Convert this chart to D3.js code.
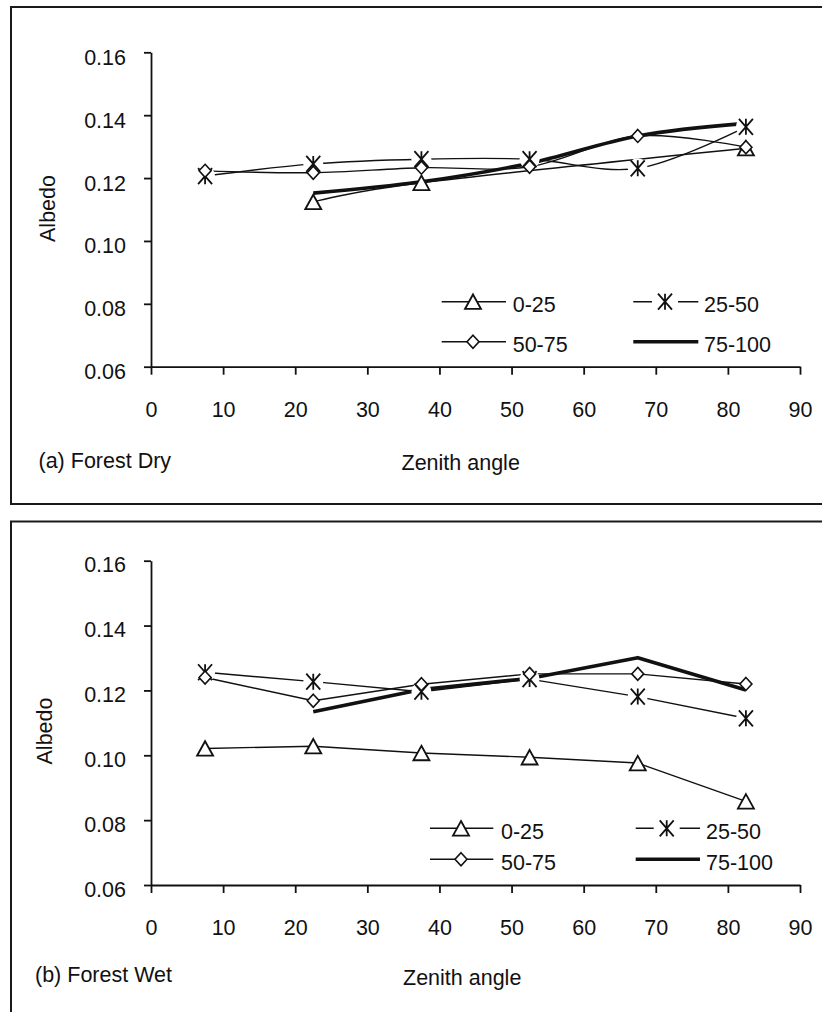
<!DOCTYPE html>
<html>
<head>
<meta charset="utf-8">
<script src="https://cdn.jsdelivr.net/npm/d3@7"></script>
<style>
  html, body { margin: 0; padding: 0; background: #fff; }
  svg { display: block; }
  text { font-family: "Liberation Sans", Arial, Helvetica, sans-serif; fill: #111; }
</style>
</head>
<body>
<svg id="chart" width="822" height="1012"></svg>
<script>
// ---------------- DATA ----------------
const zenith = [7.5, 22.5, 37.5, 52.5, 67.5, 82.5];
const seriesNames = ["0-25", "25-50", "50-75", "75-100"];
const xTicks = [0, 10, 20, 30, 40, 50, 60, 70, 80, 90];
const yTicks = [0.06, 0.08, 0.10, 0.12, 0.14, 0.16];

// (a) Forest Dry
const dry0_25   = [null,   0.1124, 0.1185, null,   null,   0.1295];
const dry25_50  = [0.1206, 0.1245, 0.1260, 0.1260, 0.1231, 0.1363];
const dry50_75  = [0.1223, 0.1217, 0.1233, 0.1236, 0.1334, 0.1298];
const dry75_100 = [null,   0.1152, 0.1188, 0.1247, 0.1334, 0.1374];

// (b) Forest Wet
const wet0_25   = [0.1021, 0.1028, 0.1007, 0.0994, 0.0976, 0.0858];
const wet25_50  = [0.1256, 0.1227, 0.1196, 0.1235, 0.1181, 0.1114];
const wet50_75  = [0.1240, 0.1168, 0.1219, 0.1251, 0.1251, 0.1220];
const wet75_100 = [null,   0.1134, 0.1203, 0.1237, 0.1301, 0.1201];

// ---------------- LAYOUT ----------------
const FONT = 21.5;
const panels = [
  {
    title: "(a) Forest Dry",
    series: [dry0_25, dry25_50, dry50_75, dry75_100],
    smooth: true,
    frame: {x: 11, y: 7, w: 830, h: 497},
    xRange: [151, 800], yRange: [366.7, 52.3],
    yLabelDy: 12,
    albedo: {x: 55, y: 208.5},
    titlePos: {x: 38.5, y: 468},
    xTitlePos: {x: 401.5, y: 470},
    legend: {rows: [301.7, 341.7], base: 10,
             col1: {l: 441.7, r: 506, m: 473, t: 512.7},
             col2: {l: 633.3, r: 698.3, m: 665, t: 704}}
  },
  {
    title: "(b) Forest Wet",
    series: [wet0_25, wet25_50, wet50_75, wet75_100],
    smooth: false,
    frame: {x: 11, y: 521.5, w: 830, h: 520},
    xRange: [151, 800], yRange: [885, 560.7],
    yLabelDy: 11,
    albedo: {x: 52, y: 731},
    titlePos: {x: 35, y: 981.7},
    xTitlePos: {x: 403, y: 985},
    legend: {rows: [828.3, 859.3], base: 10.5,
             col1: {l: 430, r: 493.3, m: 461, t: 501},
             col2: {l: 635.7, r: 700, m: 666.7, t: 706}}
  }
];

const svg = d3.select("#chart");
const INK = "#111";

function drawMarker(g, type, cx, cy, legend) {
  if (type === 0) { // triangle
    const w = 16, h = 14.5;
    g.append("path")
      .attr("d", `M${cx},${cy - h/2} L${cx + w/2},${cy + h/2} L${cx - w/2},${cy + h/2} Z`)
      .attr("fill", "#fff").attr("stroke", INK).attr("stroke-width", 1.8)
      .attr("stroke-linejoin", "miter");
  } else if (type === 1) { // asterisk
    if (legend) {
      g.append("rect").attr("x", cx - 13).attr("y", cy - 9).attr("width", 26).attr("height", 18).attr("fill", "#fff");
    } else {
      g.append("circle").attr("cx", cx).attr("cy", cy).attr("r", 10).attr("fill", "#fff");
    }
    const a = 7, b = 8;
    g.append("path")
      .attr("d", `M${cx - a},${cy - b} L${cx + a},${cy + b} M${cx + a},${cy - b} L${cx - a},${cy + b} M${cx},${cy - b} L${cx},${cy + b}`)
      .attr("fill", "none").attr("stroke", INK).attr("stroke-width", 1.8);
  } else if (type === 2) { // diamond
    const w = 12, h = 13;
    g.append("path")
      .attr("d", `M${cx},${cy - h/2} L${cx + w/2},${cy} L${cx},${cy + h/2} L${cx - w/2},${cy} Z`)
      .attr("fill", "#fff").attr("stroke", INK).attr("stroke-width", 1.6);
  }
}

panels.forEach(p => {
  const g = svg.append("g");

  // frame
  g.append("rect")
    .attr("x", p.frame.x).attr("y", p.frame.y)
    .attr("width", p.frame.w).attr("height", p.frame.h)
    .attr("fill", "#fff").attr("stroke", "#1a1a1a").attr("stroke-width", 2);

  const x = d3.scaleLinear().domain([0, 90]).range(p.xRange);
  const y = d3.scaleLinear().domain([0.06, 0.16]).range(p.yRange);

  // y axis
  const ya = g.append("g")
    .attr("transform", `translate(${p.xRange[0]},0)`)
    .call(d3.axisLeft(y).tickValues(yTicks).tickSize(7).tickSizeOuter(0).tickPadding(18).tickFormat(d3.format(".2f")));
  ya.selectAll("text").attr("dy", null).attr("y", p.yLabelDy)
    .style("font-size", FONT + "px").attr("fill", INK);

  // x axis
  const xa = g.append("g")
    .attr("transform", `translate(0,${p.yRange[0]})`)
    .call(d3.axisBottom(x).tickValues(xTicks).tickSize(8).tickSizeOuter(0).tickFormat(d3.format("d")));
  xa.selectAll("text").attr("dy", null).attr("y", 50)
    .style("font-size", FONT + "px").attr("fill", INK);

  [ya, xa].forEach(a => {
    a.select(".domain").attr("stroke", INK).attr("stroke-width", 1.8);
    a.selectAll(".tick line").attr("stroke", INK).attr("stroke-width", 1.8);
  });

  // titles
  g.append("text")
    .attr("transform", `translate(${p.albedo.x},${p.albedo.y}) rotate(-90)`)
    .attr("text-anchor", "middle")
    .style("font-size", FONT + "px")
    .text("Albedo");
  g.append("text").attr("x", p.titlePos.x).attr("y", p.titlePos.y)
    .style("font-size", FONT + "px").text(p.title);
  g.append("text").attr("x", p.xTitlePos.x).attr("y", p.xTitlePos.y)
    .style("font-size", FONT + "px").text("Zenith angle");

  // lines
  const curve = p.smooth ? d3.curveCardinal.tension(0) : d3.curveLinear;
  p.series.forEach((vals, si) => {
    const pts = zenith.map((z, i) => [z, vals[i]]).filter(d => d[1] !== null);
    const line = d3.line().x(d => x(d[0])).y(d => y(d[1])).curve(curve);
    g.append("path")
      .attr("d", line(pts))
      .attr("fill", "none")
      .attr("stroke", INK)
      .attr("stroke-width", si === 3 ? 3.6 : 1.4)
      .attr("stroke-linejoin", "round");
  });

  // markers
  p.series.forEach((vals, si) => {
    if (si === 3) return;
    zenith.forEach((z, i) => {
      if (vals[i] === null) return;
      drawMarker(g, si, x(z), y(vals[i]), false);
    });
  });

  // legend
  const L = p.legend;
  const entries = [
    {col: L.col1, row: 0}, {col: L.col2, row: 0},
    {col: L.col1, row: 1}, {col: L.col2, row: 1}
  ];
  entries.forEach((e, si) => {
    const ly = L.rows[e.row];
    g.append("line")
      .attr("x1", e.col.l).attr("x2", e.col.r)
      .attr("y1", ly).attr("y2", ly)
      .attr("stroke", INK).attr("stroke-width", si === 3 ? 3.6 : 1.4);
    if (si < 3) drawMarker(g, si, e.col.m, ly, true);
    g.append("text")
      .attr("x", e.col.t).attr("y", ly + L.base)
      .style("font-size", FONT + "px")
      .text(seriesNames[si]);
  });
});
</script>
</body>
</html>
